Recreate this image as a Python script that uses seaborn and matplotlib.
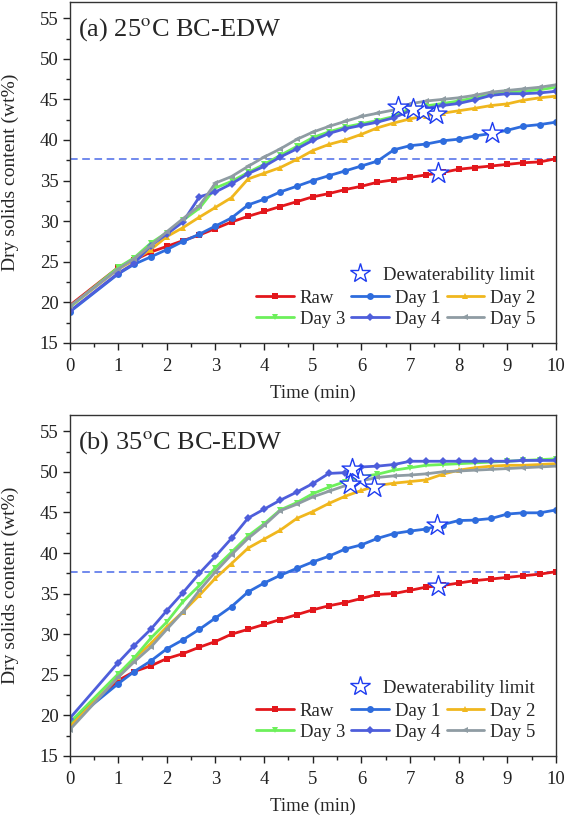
import matplotlib
matplotlib.use('Agg')
import matplotlib.pyplot as plt
from matplotlib.lines import Line2D
from matplotlib.ticker import MultipleLocator
import seaborn as sns
import pandas as pd

# time points (min)
time = [0, 1, 1.33, 1.67, 2, 2.33, 2.67, 3, 3.33, 3.67, 4, 4.33, 4.67, 5, 5.33,
        5.67, 6, 6.33, 6.67, 7, 7.33, 7.67, 8, 8.33, 8.67, 9, 9.33, 9.67, 10]

# (a) 25 C
raw_a = [19.6, 24.3, 25.2, 26.2, 26.9, 27.6, 28.3, 29.1, 29.9, 30.6, 31.2, 31.8, 32.4, 33.0, 33.4,
         33.9, 34.3, 34.8, 35.1, 35.4, 35.7, 36.0, 36.4, 36.6, 36.8, 37.0, 37.2, 37.3, 37.7]
day1_a = [18.8, 23.5, 24.7, 25.6, 26.5, 27.5, 28.4, 29.4, 30.4, 32.0, 32.7, 33.6, 34.3, 35.0, 35.6,
          36.2, 36.8, 37.4, 38.8, 39.3, 39.5, 39.9, 40.1, 40.5, 40.8, 41.2, 41.7, 41.9, 42.2]
day2_a = [19.4, 24.1, 25.2, 26.5, 28.1, 29.2, 30.5, 31.7, 32.9, 35.2, 35.9, 36.6, 37.6, 38.7, 39.45,
          40.0, 40.7, 41.5, 42.1, 42.6, 43.0, 43.3, 43.6, 43.9, 44.25, 44.45, 44.9, 45.2, 45.4]
day3_a = [19.4, 24.3, 25.5, 27.3, 28.6, 30.1, 31.6, 34.1, 34.9, 36.0, 37.0, 38.1, 39.2, 40.3, 41.0,
          41.6, 42.0, 42.4, 42.9, 43.9, 44.2, 44.5, 44.8, 45.2, 45.6, 45.9, 46.0, 46.2, 46.5]
day4_a = [18.9, 23.6, 24.8, 27.0, 28.4, 29.9, 33.0, 33.6, 34.6, 35.85, 36.75, 37.9, 38.9, 39.95, 40.8,
          41.4, 41.8, 42.2, 42.75, 43.6, 43.9, 44.25, 44.5, 44.95, 45.5, 45.7, 45.7, 45.8, 46.0]
day5_a = [19.5, 24.1, 25.4, 27.0, 28.7, 30.3, 31.9, 34.7, 35.5, 36.75, 37.9, 38.9, 40.07, 40.97, 41.67,
          42.3, 42.9, 43.3, 43.7, 44.45, 44.8, 45.0, 45.2, 45.5, 45.9, 46.1, 46.3, 46.5, 46.8]
star_t_a = [7.57, 8.68, 7.53, 7.26, 7.07, 6.75]
star_v_a = [35.9, 40.85, 43.2, 43.6, 43.8, 44.1]

# (b) 35 C
raw_b = [19.0, 24.3, 25.4, 26.1, 27.0, 27.6, 28.4, 29.1, 30.0, 30.6, 31.2, 31.8, 32.4, 33.0, 33.5,
         33.9, 34.4, 34.9, 35.0, 35.4, 35.8, 36.0, 36.3, 36.6, 36.8, 37.0, 37.2, 37.4, 37.7]
day1_b = [19.0, 23.9, 25.4, 26.7, 28.2, 29.3, 30.6, 32.0, 33.4, 35.2, 36.3, 37.25, 38.1, 38.9, 39.6,
          40.5, 41.0, 41.8, 42.4, 42.7, 42.95, 43.5, 44.0, 44.05, 44.25, 44.8, 44.95, 44.95, 45.3]
day2_b = [18.6, 24.7, 27.0, 28.85, 30.9, 32.75, 34.8, 36.9, 38.7, 40.6, 41.7, 42.8, 44.25, 45.1, 46.1,
          47.0, 47.7, 48.3, 48.6, 48.8, 49.0, 49.7, 50.2, 50.5, 50.7, 50.8, 50.8, 50.9, 51.0]
day3_b = [19.1, 25.1, 27.1, 29.5, 31.5, 34.0, 36.0, 38.2, 40.1, 42.1, 43.6, 45.3, 46.2, 47.3, 48.1,
          48.8, 49.4, 49.7, 50.2, 50.5, 50.8, 50.9, 51.0, 51.1, 51.2, 51.3, 51.4, 51.5, 51.6]
day4_b = [19.6, 26.5, 28.6, 30.6, 32.9, 35.1, 37.5, 39.6, 41.8, 44.3, 45.4, 46.5, 47.5, 48.55, 49.8,
          49.9, 50.6, 50.7, 50.9, 51.3, 51.3, 51.3, 51.3, 51.3, 51.3, 51.3, 51.4, 51.4, 51.4]
day5_b = [18.2, 24.7, 26.6, 28.4, 30.6, 32.75, 35.4, 37.7, 39.8, 41.8, 43.4, 45.2, 46.0, 46.9, 47.6,
          48.3, 48.9, 49.3, 49.5, 49.6, 49.75, 50.0, 50.1, 50.2, 50.3, 50.4, 50.5, 50.6, 50.7]
star_t_b = [7.57, 7.55, 6.26, 5.98, 5.80, 5.76]
star_v_b = [35.9, 43.4, 48.1, 49.2, 50.3, 48.55]

limit = 37.7
names = ['Raw', 'Day 1', 'Day 2', 'Day 3', 'Day 4', 'Day 5']
colors = ['#E3171C', '#2E6CDD', '#F0B71E', '#6DF05B', '#4E5EDB', '#8F9CA3']
marks = ['s', 'o', '^', 'v', 'D', '<']
msizes = [4.5, 5, 5, 5, 4, 5]

sns.set_style('ticks')
plt.rcParams['font.family'] = ['Liberation Serif', 'DejaVu Serif']
plt.rcParams['mathtext.fontset'] = 'stix'

fig = plt.figure(figsize=(5.67, 8.18), dpi=100)
ax_a = fig.add_axes([0.1226, 0.5807, 0.858, 0.4169])
ax_b = fig.add_axes([0.1226, 0.0758, 0.858, 0.4169])

panels = [
    (ax_a, [raw_a, day1_a, day2_a, day3_a, day4_a, day5_a], star_t_a, star_v_a,
     '(a) 25$^{\\mathrm{o}}$C BC-EDW'),
    (ax_b, [raw_b, day1_b, day2_b, day3_b, day4_b, day5_b], star_t_b, star_v_b,
     '(b) 35$^{\\mathrm{o}}$C BC-EDW'),
]

fs = 13.5
for ax, series, st, sv, title in panels:
    ax.axhline(limit, color='#4A6AE8', lw=1.1, ls=(0, (5, 3)), zorder=1)
    for vals, name, c, m, ms in zip(series, names, colors, marks, msizes):
        df = pd.DataFrame({'t': time, 'v': vals})
        sns.lineplot(data=df, x='t', y='v', ax=ax, color=c, marker=m, markersize=ms,
                     markeredgewidth=0, lw=2, zorder=2)
    sns.scatterplot(x=st, y=sv, ax=ax, marker='*', s=250, color='white',
                    edgecolor='#1E3CF0', linewidth=1, zorder=5)
    ax.set_xlim(0, 10)
    ax.set_ylim(15, 57)
    ax.xaxis.set_major_locator(MultipleLocator(1))
    ax.xaxis.set_minor_locator(MultipleLocator(0.5))
    ax.yaxis.set_major_locator(MultipleLocator(5))
    ax.yaxis.set_minor_locator(MultipleLocator(2.5))
    ax.tick_params(which='major', direction='out', length=5, width=1, labelsize=fs, colors='#222222')
    ax.tick_params(which='minor', direction='out', length=3, width=1, colors='#222222')
    ax.tick_params(axis='x', which='major', pad=6)
    ax.tick_params(axis='y', which='major', pad=3)
    for sp in ax.spines.values():
        sp.set_color('#333333')
        sp.set_linewidth(1)
    ax.set_xlabel('Time (min)', fontsize=fs)
    ax.set_ylabel('Dry solids content (wt%)', fontsize=14)
    ax.xaxis.set_label_coords(0.5, -0.123)
    ax.yaxis.set_label_coords(-0.103, 0.5)
    ax.text(0.018, 0.92, title, transform=ax.transAxes, fontsize=19, va='center', ha='left')

    star_h = [Line2D([], [], marker='*', ls='none', markersize=15, markerfacecolor='white',
                     markeredgecolor='#1E3CF0', markeredgewidth=1)]
    leg1 = ax.legend(star_h, ['Dewaterability limit'], loc='lower right', frameon=False,
                     bbox_to_anchor=(0.98, 0.14), fontsize=fs, handletextpad=0.25,
                     borderpad=0.1)
    ax.add_artist(leg1)
    hs = [Line2D([], [], color=c, marker=m, markersize=ms, markeredgewidth=0, lw=2)
          for c, m, ms in zip(colors, marks, msizes)]
    order = [0, 3, 1, 4, 2, 5]
    ax.legend([hs[i] for i in order], [names[i] for i in order], ncol=3, loc='lower right',
              frameon=False, bbox_to_anchor=(0.98, 0.012), fontsize=fs, handlelength=2.0,
              handletextpad=0.3, columnspacing=0.35, labelspacing=0.2, borderpad=0.1)

fig.savefig('out.png', dpi=100)
